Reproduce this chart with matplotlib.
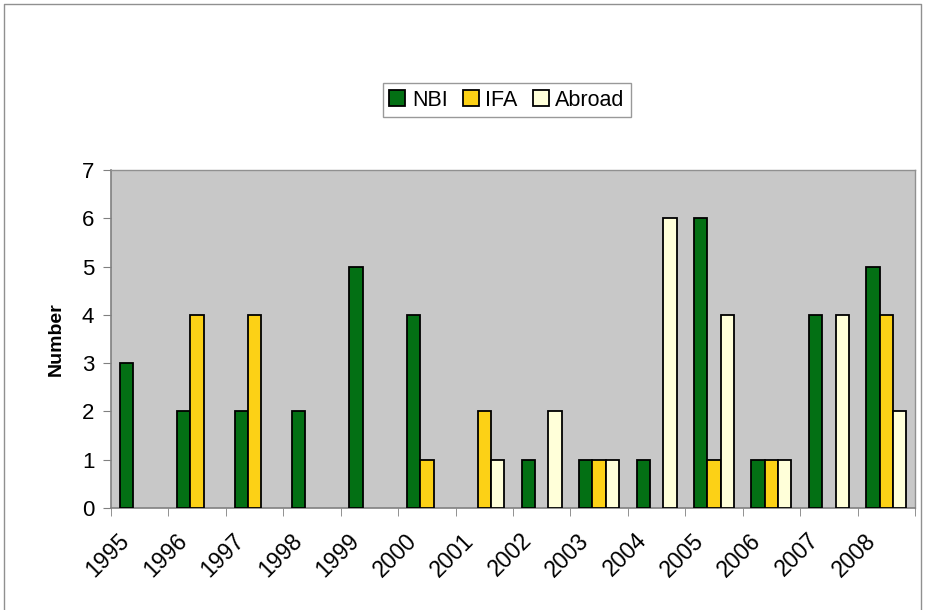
import numpy as np
import matplotlib.pyplot as plt
from matplotlib.lines import Line2D

plt.rcParams['font.family'] = ['Liberation Sans', 'DejaVu Sans']

years = ['1995', '1996', '1997', '1998', '1999', '2000', '2001',
         '2002', '2003', '2004', '2005', '2006', '2007', '2008']
nbi = [3, 2, 2, 2, 5, 4, 0, 1, 1, 1, 6, 1, 4, 5]
ifa = [0, 4, 4, 0, 0, 1, 2, 0, 1, 0, 1, 1, 0, 4]
abroad = [0, 0, 0, 0, 0, 0, 1, 2, 1, 6, 4, 1, 4, 2]

series = [('NBI', nbi, '#037014'), ('IFA', ifa, '#FCD116'), ('Abroad', abroad, '#FFFFD9')]

fig = plt.figure(figsize=(9.25, 6.1), dpi=100)
ax = fig.add_axes([111 / 925, 1 - 508 / 610, 804 / 925, 338 / 610])
ax.set_facecolor('#C8C8C8')

x = np.arange(len(years))
w = 0.233
for i, (name, vals, col) in enumerate(series):
    # zero counts get no bar at all (no flat outline)
    v = np.array(vals, dtype=float)
    v[v == 0] = np.nan
    ax.bar(x + (i - 1) * w, v, w, color=col, edgecolor='black', linewidth=1.3,
           label=name, zorder=3)

ax.set_xlim(-0.5, len(years) - 0.5)
ax.set_ylim(0, 7)
ax.set_yticks(range(8))
ax.tick_params(axis='y', labelsize=16, length=6, color='#808080', pad=6)

# ticks on category boundaries, labels under categories
ax.set_xticks(np.arange(-0.5, len(years)), minor=True)
ax.set_xticks(x - 0.38)
ax.set_xticklabels(years, rotation=45, ha='right', rotation_mode='anchor', fontsize=16.5)
ax.tick_params(axis='x', which='major', length=0, pad=15)
ax.tick_params(axis='x', which='minor', length=6, color='#808080')

for s in ['left', 'bottom']:
    ax.spines[s].set_color('#808080')
    ax.spines[s].set_linewidth(1.2)
for s in ['top', 'right']:
    ax.spines[s].set_color('#909090')
    ax.spines[s].set_linewidth(1)

ax.set_ylabel('Number', fontsize=14, fontweight='bold', labelpad=12)

leg = fig.legend(loc='center', bbox_to_anchor=(507 / 925, 1 - 100 / 610), ncol=3,
                 fontsize=15.5, frameon=True, fancybox=False, edgecolor='#808080',
                 handlelength=0.75, handleheight=0.75, handletextpad=0.3,
                 columnspacing=0.7, borderpad=0.3, borderaxespad=0)
leg.get_frame().set_linewidth(1)

# outer chart border
fig.add_artist(Line2D([4 / 925, 4 / 925, 921 / 925, 921 / 925],
                      [0, 1 - 4 / 610, 1 - 4 / 610, 0],
                      transform=fig.transFigure, color='#909090', linewidth=1))

fig.savefig('out.png', dpi=100)
